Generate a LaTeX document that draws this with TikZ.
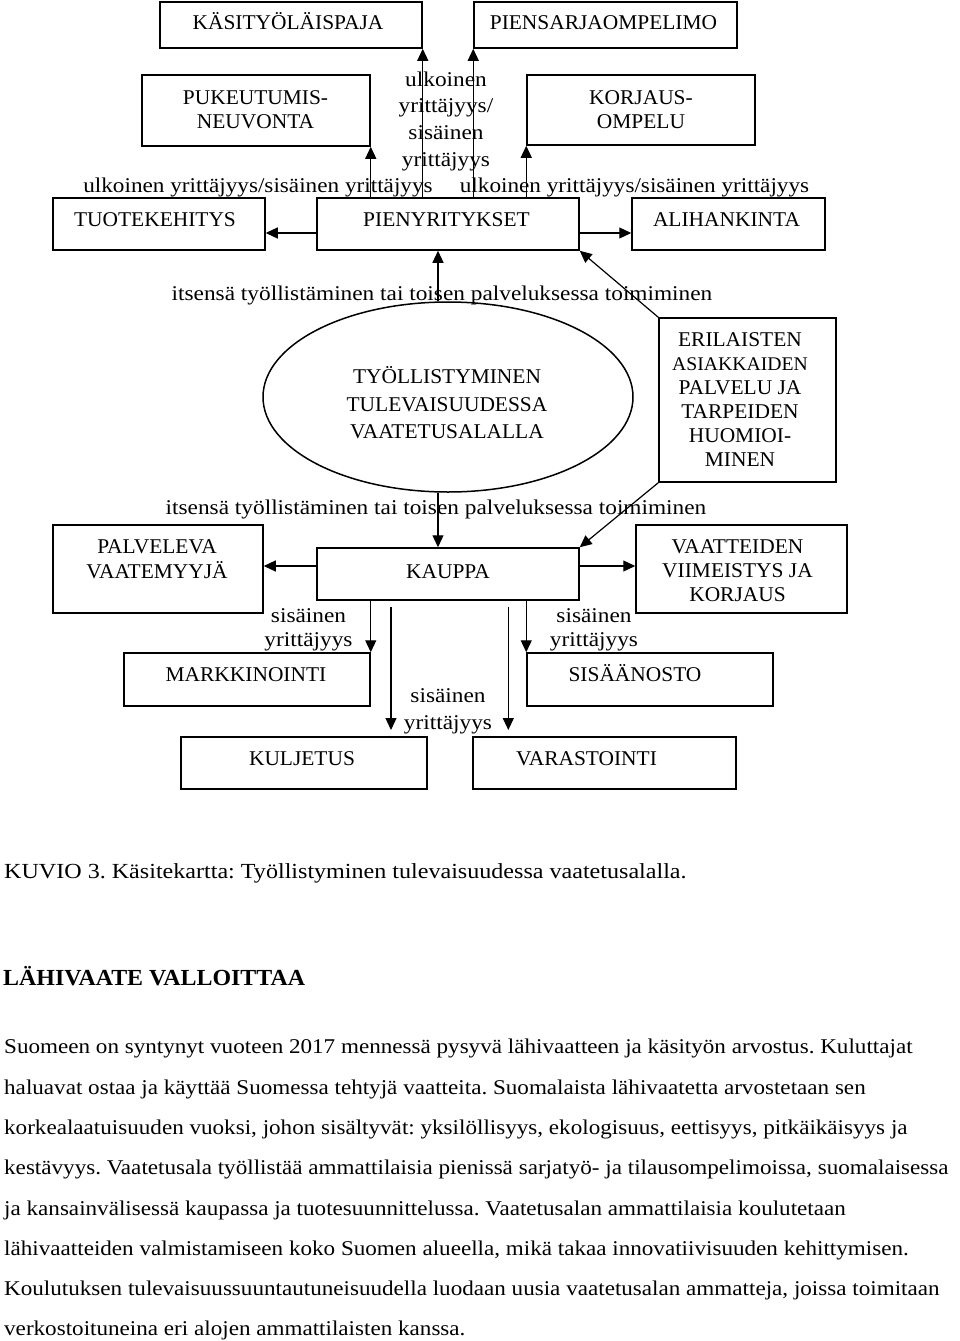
\documentclass[tikz,border=0pt]{standalone}
\usepackage{fontspec}
\usepackage{graphicx}
\setmainfont{Liberation Serif}
\frenchspacing
\usetikzlibrary{arrows.meta,shapes.geometric}
\newcommand\mlines[2]{\fontsize{21}{#1}\selectfont\begin{tabular}[t]{@{}c@{}}#2\end{tabular}}
\newcommand\hs[2]{\scalebox{#1}[1]{#2}}
\begin{document}
\begin{tikzpicture}[x=1pt,y=-1pt,
  box/.style={draw, line width=1.5pt, inner sep=0pt},
  shape ellipse/.style={draw, ellipse, line width=1.5pt, inner sep=0pt},
  txt/.style={anchor=base, inner sep=0pt, font=\fontsize{21}{24}\selectfont},
  ltxt/.style={anchor=base west, inner sep=0pt, font=\fontsize{21}{24}\selectfont},
  arr/.style={line width=1.2pt, -{Triangle[length=12pt,width=11pt]}}]
\useasboundingbox[fill=white] (0,0) rectangle (960,1341);

% boxes
\node[box, minimum width=262pt, minimum height=46pt] (kasi) at (291,25) {};
\node[box, minimum width=263pt, minimum height=46pt] (pms) at (605.5,25) {};
\node[box, minimum width=228pt, minimum height=71pt] (puk) at (256,110.5) {};
\node[box, minimum width=228pt, minimum height=70pt] (kor) at (641,110) {};
\node[box, minimum width=212pt, minimum height=52pt] (tuote) at (159,224) {};
\node[box, minimum width=262pt, minimum height=52pt] (pien) at (448,224) {};
\node[box, minimum width=193pt, minimum height=52pt] (ali) at (728.5,224) {};
\node[shape ellipse, minimum width=370pt, minimum height=190pt] (ell) at (448,397) {};
\node[box, minimum width=177pt, minimum height=164pt] (eri) at (747.5,400) {};
\node[box, minimum width=210pt, minimum height=88pt] (palv) at (158,569) {};
\node[box, minimum width=262pt, minimum height=52pt] (kauppa) at (448,574) {};
\node[box, minimum width=211pt, minimum height=88pt] (vaat) at (741.5,569) {};
\node[box, minimum width=246pt, minimum height=53pt] (mark) at (247,679.5) {};
\node[box, minimum width=246pt, minimum height=53pt] (sis) at (650,679.5) {};
\node[box, minimum width=246pt, minimum height=52pt] (kul) at (304,763) {};
\node[box, minimum width=263pt, minimum height=52pt] (var) at (604.5,763) {};

% texts in diagram
\node[txt] (tkasi) at (288,29.5) {\hs{1.02}{KÄSITYÖLÄISPAJA}};
\node[txt] (tpms) at (603.5,29.5) {\hs{1.02}{PIENSARJAOMPELIMO}};
\node[txt] (tpuk) at (255.5,104) {\hs{1.02}{\mlines{24.3}{PUKEUTUMIS-\\NEUVONTA}}};
\node[txt] (tkor) at (641,104) {\hs{1.02}{\mlines{24.3}{KORJAUS-\\OMPELU}}};
\node[txt] (tulk) at (446,86) {\hs{1.11}{\mlines{26.7}{ulkoinen\\yrittäjyys/\\sisäinen\\yrittäjyys}}};
\node[txt] (tulkl) at (258,192.7) {\hs{1.105}{ulkoinen yrittäjyys/sisäinen yrittäjyys}};
\node[txt] (tulkr) at (634.5,192.7) {\hs{1.105}{ulkoinen yrittäjyys/sisäinen yrittäjyys}};
\node[txt] (ttuote) at (155,226.7) {\hs{1.02}{TUOTEKEHITYS}};
\node[txt] (tpien) at (446.5,226.7) {\hs{1.02}{PIENYRITYKSET}};
\node[txt] (tali) at (726.5,226.7) {\hs{1.02}{ALIHANKINTA}};
\node[txt] (tits1) at (442,300) {\hs{1.11}{itsensä työllistäminen tai toisen palveluksessa toimiminen}};
\node[txt] (tell) at (447,383.3) {\hs{1.02}{\mlines{27.8}{TYÖLLISTYMINEN\\TULEVAISUUDESSA\\VAATETUSALALLA}}};
\node[txt] (teri) at (740,346) {\hs{1.02}{\mlines{24}{ERILAISTEN\\{\fontsize{19.3}{24}\selectfont ASIAKKAIDEN}\\PALVELU JA\\TARPEIDEN\\HUOMIOI-\\MINEN}}};
\node[txt] (tits2) at (436,514) {\hs{1.11}{itsensä työllistäminen tai toisen palveluksessa toimiminen}};
\node[txt] (tpalv) at (157,553.3) {\hs{1.02}{\mlines{25}{PALVELEVA\\VAATEMYYJÄ}}};
\node[txt] (tkauppa) at (448,578.3) {\hs{1.02}{KAUPPA}};
\node[txt] (tvaat) at (737.5,553.3) {\hs{1.02}{\mlines{24.2}{VAATTEIDEN\\VIIMEISTYS JA\\KORJAUS}}};
\node[txt] (tsis1) at (308.5,622.7) {\hs{1.11}{\mlines{24}{sisäinen\\yrittäjyys}}};
\node[txt] (tsis2) at (594,622.7) {\hs{1.11}{\mlines{24}{sisäinen\\yrittäjyys}}};
\node[txt] (tsis3) at (448,702.7) {\hs{1.11}{\mlines{26.6}{sisäinen\\yrittäjyys}}};
\node[txt] (tmark) at (246,681) {\hs{1.02}{MARKKINOINTI}};
\node[txt] (tsisa) at (635,681) {\hs{1.02}{SISÄÄNOSTO}};
\node[txt] (tkul) at (302,765) {\hs{1.02}{KULJETUS}};
\node[txt] (tvar) at (586.5,765) {\hs{1.02}{VARASTOINTI}};

% connectors
\draw[arr] (pien.north -| kasi.east) -- (kasi.south east);
\draw[arr] (pien.north -| pms.west) -- (pms.south west);
\draw[arr] (pien.north -| puk.east) -- (puk.south east);
\draw[arr] (pien.north -| kor.west) -- (kor.south west);
\draw[arr] ([yshift=-9pt]pien.west) -- ([yshift=-9pt]tuote.east);
\draw[arr] ([yshift=-9pt]pien.east) -- ([yshift=-9pt]ali.west);
\coordinate (etop) at ([xshift=-10pt]ell.north);
\coordinate (ebot) at ([xshift=-10pt]ell.south);
\draw[arr] (etop) -- (etop |- pien.south);
\draw[arr] (eri.north west) -- (pien.south east);
\draw[arr] (ebot) -- (ebot |- kauppa.north);
\draw[arr] (eri.south west) -- (kauppa.north east);
\draw[arr] ([yshift=8pt]kauppa.west) -- ([yshift=8pt]kauppa.west -| palv.east);
\draw[arr] ([yshift=8pt]kauppa.east) -- ([yshift=8pt]kauppa.east -| vaat.west);
\draw[arr] (kauppa.south -| mark.east) -- (mark.north east);
\draw[arr] (kauppa.south -| sis.west) -- (sis.north west);
\coordinate (k1) at (391,607);
\coordinate (k2) at (391,730);
\coordinate (v1) at (508.3,607);
\coordinate (v2) at (508.3,730);
\draw[arr] (k1) -- (k2);
\draw[arr] (v1) -- (v2);

% caption and body text
\node[ltxt] (cap) at (4,878) {\hs{1.12}{\fontsize{21.5}{24}\selectfont KUVIO 3. Käsitekartta: Työllistyminen tulevaisuudessa vaatetusalalla.}};
\node[ltxt] (head) at (3,985) {\hs{1.04}{\fontsize{23}{26}\selectfont\bfseries LÄHIVAATE VALLOITTAA}};
\node[ltxt] (b1) at (4,1053) {\hs{1.1}{Suomeen on syntynyt vuoteen 2017 mennessä pysyvä lähivaatteen ja käsityön arvostus. Kuluttajat}};
\node[ltxt] (b2) at (4,1094) {\hs{1.1}{haluavat ostaa ja käyttää Suomessa tehtyjä vaatteita. Suomalaista lähivaatetta arvostetaan sen}};
\node[ltxt] (b3) at (4,1134) {\hs{1.1}{korkealaatuisuuden vuoksi, johon sisältyvät: yksilöllisyys, ekologisuus, eettisyys, pitkäikäisyys ja}};
\node[ltxt] (b4) at (4,1174) {\hs{1.1}{kestävyys. Vaatetusala työllistää ammattilaisia pienissä sarjatyö- ja tilausompelimoissa, suomalaisessa}};
\node[ltxt] (b5) at (4,1215) {\hs{1.1}{ja kansainvälisessä kaupassa ja tuotesuunnittelussa. Vaatetusalan ammattilaisia koulutetaan}};
\node[ltxt] (b6) at (4,1255) {\hs{1.1}{lähivaatteiden valmistamiseen koko Suomen alueella, mikä takaa innovatiivisuuden kehittymisen.}};
\node[ltxt] (b7) at (4,1295) {\hs{1.1}{Koulutuksen tulevaisuussuuntautuneisuudella luodaan uusia vaatetusalan ammatteja, joissa toimitaan}};
\node[ltxt] (b8) at (4,1335) {\hs{1.1}{verkostoituneina eri alojen ammattilaisten kanssa.}};
\end{tikzpicture}
\end{document}
